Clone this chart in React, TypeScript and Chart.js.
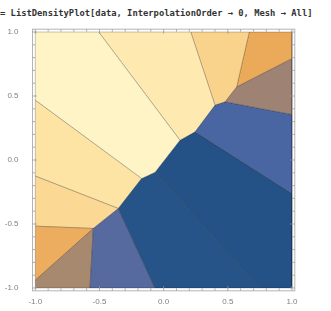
import React, { useEffect, useRef } from "react";
import { Chart, registerables } from "chart.js";

Chart.register(...registerables);

// Voronoi cells (InterpolationOrder -> 0), vertices in data coordinates
const cellA = [[-1, 1], [-0.506, 1], [0.127, 0.155], [-0.067, -0.095], [-0.171, -0.144], [-1, 0.468]];
const cellB = [[-0.506, 1], [0.211, 1], [0.4, 0.429], [0.244, 0.22], [0.127, 0.155]];
const cellC = [[0.211, 1], [0.667, 1], [0.569, 0.572], [0.478, 0.455], [0.4, 0.429]];
const cellD = [[0.667, 1], [1, 1], [1, 0.794], [0.569, 0.572]];
const cellE = [[0.569, 0.572], [1, 0.794], [1, 0.356], [0.478, 0.455]];
const cellF = [[0.4, 0.429], [0.478, 0.455], [1, 0.356], [1, -0.262], [0.244, 0.22]];
const cellG = [[0.127, 0.155], [0.244, 0.22], [1, -0.262], [1, -1], [0.745, -1], [-0.067, -0.095]];
const cellH = [[-0.171, -0.144], [-0.067, -0.095], [0.745, -1], [-0.067, -1], [-0.353, -0.379]];
const cellI = [[-0.353, -0.379], [-0.067, -1], [-0.574, -1], [-0.548, -0.535]];
const cellJ = [[-0.548, -0.535], [-0.574, -1], [-1, -1], [-1, -0.939]];
const cellK = [[-1, -0.517], [-0.548, -0.535], [-1, -0.939]];
const cellL = [[-1, -0.126], [-0.353, -0.379], [-0.548, -0.535], [-1, -0.517]];
const cellM = [[-1, 0.468], [-0.171, -0.144], [-0.353, -0.379], [-1, -0.126]];

const cells = [cellA, cellB, cellC, cellD, cellE, cellF, cellG, cellH, cellI, cellJ, cellK, cellL, cellM];

const cellColors = [
  "#FFF4C6", "#FEEAB1", "#F9D38B", "#EBAA5A", "#9E8374", "#4A66A2", "#245287",
  "#265489", "#566A9F", "#A6896F", "#EDAD5E", "#FBD894", "#FDE4A4",
];

const tickValues = [-1, -0.5, 0, 0.5, 1];
const tickLabels = ["-1.0", "-0.5", "0.0", "0.5", "1.0"];
const minorTickValues = [-1, -0.9, -0.8, -0.7, -0.6, -0.5, -0.4, -0.3, -0.2, -0.1, 0, 0.1, 0.2, 0.3, 0.4, 0.5, 0.6, 0.7, 0.8, 0.9, 1];

const PAD = 0.022;

const framePlugin = {
  id: "mmaFrame",
  afterDraw(chart: any) {
    const { ctx, chartArea, scales } = chart;
    const xs = scales.x;
    const ys = scales.y;
    ctx.save();
    ctx.strokeStyle = "#b4b4b4";
    ctx.lineWidth = 1;
    ctx.strokeRect(chartArea.left, chartArea.top, chartArea.right - chartArea.left, chartArea.bottom - chartArea.top);
    ctx.strokeStyle = "#9a9a9a";
    ctx.lineWidth = 0.8;
    ctx.beginPath();
    for (const v of minorTickValues) {
      const major = Math.abs(Math.round(v * 2) - v * 2) < 1e-6;
      const len = major ? 4.5 : 2.5;
      const px = xs.getPixelForValue(v);
      const py = ys.getPixelForValue(v);
      ctx.moveTo(px, chartArea.bottom);
      ctx.lineTo(px, chartArea.bottom - len);
      ctx.moveTo(px, chartArea.top);
      ctx.lineTo(px, chartArea.top + len);
      ctx.moveTo(chartArea.left, py);
      ctx.lineTo(chartArea.left + len, py);
      ctx.moveTo(chartArea.right, py);
      ctx.lineTo(chartArea.right - len, py);
    }
    ctx.stroke();
    ctx.restore();
  },
};

export default function App() {
  const canvasRef = useRef<HTMLCanvasElement | null>(null);

  useEffect(() => {
    const canvas = canvasRef.current;
    if (!canvas) return;
    const datasets = cells.map((cell, i) => ({
      label: "cell" + i,
      data: [...cell, cell[0]].map(([x, y]) => ({ x, y })),
      showLine: true,
      fill: "shape",
      backgroundColor: cellColors[i],
      borderColor: "rgba(0,0,0,0.22)",
      borderWidth: 1,
      pointRadius: 0,
      tension: 0,
    }));
    const tickFont = { family: "'Liberation Sans', Arial, sans-serif", size: 8 };
    const chart = new Chart(canvas, {
      type: "scatter",
      data: { datasets: datasets as any },
      options: {
        animation: false,
        responsive: false,
        devicePixelRatio: 1,
        layout: { padding: { top: 29.2, right: 36.2, left: 0, bottom: 0 } },
        plugins: { legend: { display: false }, tooltip: { enabled: false } },
        elements: { point: { radius: 0 }, line: { tension: 0 } },
        scales: {
          x: {
            type: "linear",
            min: -1 - PAD,
            max: 1 + PAD,
            grid: { display: false },
            border: { display: false },
            afterBuildTicks: (s: any) => {
              s.ticks = tickValues.map((v) => ({ value: v }));
            },
            afterFit: (s: any) => {
              s.height = 20.2;
            },
            ticks: {
              autoSkip: false,
              maxRotation: 0,
              padding: -2,
              color: "#808080",
              font: tickFont,
              callback: (v: any) => tickLabels[tickValues.indexOf(Number(v))] ?? "",
            },
          },
          y: {
            type: "linear",
            min: -1 - PAD,
            max: 1 + PAD,
            grid: { display: false },
            border: { display: false },
            afterBuildTicks: (s: any) => {
              s.ticks = tickValues.map((v) => ({ value: v }));
            },
            afterFit: (s: any) => {
              s.width = 32.5;
            },
            ticks: {
              autoSkip: false,
              padding: 6,
              color: "#808080",
              font: tickFont,
              callback: (v: any) => tickLabels[tickValues.indexOf(Number(v))] ?? "",
            },
          },
        },
      },
      plugins: [framePlugin],
    });
    return () => chart.destroy();
  }, []);

  return (
    <div style={{ position: "absolute", left: 0, top: 0, width: 331, height: 311, background: "#fff", overflow: "hidden" }}>
      <div
        style={{
          position: "absolute",
          left: 0,
          top: 9,
          fontFamily: "'DejaVu Sans Mono', 'Liberation Mono', monospace",
          fontWeight: "bold",
          fontSize: "8.8px",
          lineHeight: "8.8px",
          color: "#333",
          whiteSpace: "pre",
        }}
      >
        {"= ListDensityPlot[data, InterpolationOrder \u2192 0, Mesh \u2192 All]"}
      </div>
      <canvas ref={canvasRef} width={331} height={311} style={{ position: "absolute", left: 0, top: 0 }} />
    </div>
  );
}
